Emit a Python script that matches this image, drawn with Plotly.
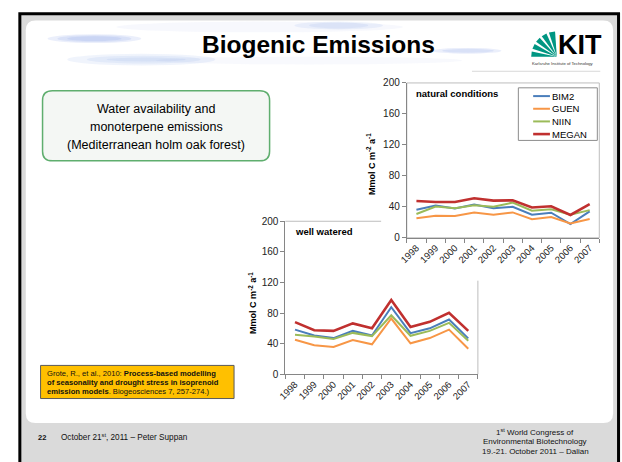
import math
import plotly.graph_objects as go

W, H = 622, 462

# ---------------- data ----------------
years = ["1998", "1999", "2000", "2001", "2002", "2003", "2004", "2005", "2006", "2007"]
series_names = ["BIM2", "GUEN", "NIIN", "MEGAN"]
series_colors = ["#4A7EBB", "#F79646", "#9BBB59", "#C0302F"]
series_widths = [2.0, 2.0, 2.0, 2.6]

natural_bim2 = [36.2, 41.7, 37.9, 43.0, 38.3, 40.0, 29.9, 32.4, 17.7, 34.1]
natural_guen = [25.3, 28.6, 28.2, 32.8, 29.9, 32.8, 24.0, 26.9, 18.5, 24.4]
natural_niin = [30.7, 40.4, 38.3, 42.1, 40.0, 45.5, 35.0, 37.0, 29.9, 35.8]
natural_megan = [47.6, 46.3, 46.3, 51.0, 48.0, 48.4, 39.2, 40.8, 29.5, 43.4]

watered_bim2 = [58.3, 50.6, 47.2, 56.6, 50.6, 87.7, 53.6, 60.0, 71.5, 46.8]
watered_guen = [45.1, 37.9, 35.7, 44.7, 39.1, 72.8, 40.4, 47.2, 58.3, 33.2]
watered_niin = [51.5, 49.4, 46.0, 54.0, 49.8, 77.0, 50.2, 56.6, 67.2, 43.8]
watered_megan = [68.1, 57.4, 56.6, 66.4, 60.0, 97.0, 61.7, 68.5, 80.4, 56.6]

y_ticks = [0, 40, 80, 120, 160, 200]

natural_series = [natural_bim2, natural_guen, natural_niin, natural_megan]
watered_series = [watered_bim2, watered_guen, watered_niin, watered_megan]

FONT = "Liberation Sans, Arial, Helvetica, sans-serif"


def X(p):
    return p / W


def Y(p):
    return 1 - p / H


fig = go.Figure()

for name, col, lw, vals in zip(series_names, series_colors, series_widths, natural_series):
    fig.add_trace(go.Scatter(x=years, y=vals, mode="lines", name=name,
                             line=dict(color=col, width=lw), xaxis="x", yaxis="y",
                             showlegend=False, hoverinfo="skip"))
for name, col, lw, vals in zip(series_names, series_colors, series_widths, watered_series):
    fig.add_trace(go.Scatter(x=years, y=vals, mode="lines", name=name,
                             line=dict(color=col, width=lw), xaxis="x2", yaxis="y2",
                             showlegend=False, hoverinfo="skip"))

AXC = "#868686"


def xax(domain, anchor):
    return dict(domain=domain, anchor=anchor, type="category", tickson="boundaries",
                ticks="outside", ticklen=4, tickcolor=AXC, tickangle=-45,
                showline=True, linecolor=AXC, linewidth=1, showgrid=False, zeroline=False,
                tickfont=dict(size=9.5, color="#222", family=FONT), range=[-0.5, 9.5],
                fixedrange=True)


def yax(domain, anchor):
    return dict(domain=domain, anchor=anchor, range=[0, 200], tickvals=y_ticks,
                ticks="outside", ticklen=4, tickcolor=AXC, showline=True, linecolor=AXC,
                linewidth=1, showgrid=False, zeroline=False,
                tickfont=dict(size=10, color="#222", family=FONT), fixedrange=True)


# chart pixel boxes
c1 = dict(x0=404, x1=599, y0=79, y1=238)
c2 = dict(x0=281, x1=476, y0=221, y1=378)

shapes = []


def rrect(x0, y0, x1, y1, r):
    pts = (f"M {X(x0 + r)} {Y(y0)} L {X(x1 - r)} {Y(y0)} Q {X(x1)} {Y(y0)} {X(x1)} {Y(y0 + r)} "
           f"L {X(x1)} {Y(y1 - r)} Q {X(x1)} {Y(y1)} {X(x1 - r)} {Y(y1)} "
           f"L {X(x0 + r)} {Y(y1)} Q {X(x0)} {Y(y1)} {X(x0)} {Y(y1 - r)} "
           f"L {X(x0)} {Y(y0 + r)} Q {X(x0)} {Y(y0)} {X(x0 + r)} {Y(y0)} Z")
    return pts


# slide frame
shapes.append(dict(type="rect", xref="paper", yref="paper", x0=X(12), x1=X(618.5), y0=Y(8), y1=Y(475),
                   line=dict(color="#000", width=3), fillcolor="#dadada", layer="below"))
shapes.append(dict(type="path", xref="paper", yref="paper", path=rrect(18, 15, 613, 428, 10),
                   line=dict(width=0), fillcolor="#ffffff", layer="below"))

# header brush strokes (soft, layered)
strokes = [(40, 29, 135, 38, 0.14), (50, 30, 125, 37, 0.14), (60, 31, 115, 36, 0.14),
           (60, 49, 210, 61, 0.10), (80, 51, 195, 59, 0.10), (100, 53, 180, 57, 0.10),
           (110, 16, 400, 27, 0.06), (290, 16, 380, 24, 0.10), (305, 17, 365, 23, 0.10),
           (430, 43, 500, 49, 0.14), (440, 44, 492, 48, 0.14), (150, 52, 460, 60, 0.05)]
for (x0, y0, x1, y1, op) in strokes:
    shapes.append(dict(type="circle", xref="paper", yref="paper", x0=X(x0), x1=X(x1), y0=Y(y0), y1=Y(y1),
                       line=dict(width=0), fillcolor="#6f8fe0", opacity=op, layer="below"))

# header separator line
shapes.append(dict(type="line", xref="paper", yref="paper", x0=X(470), x1=X(600), y0=Y(67), y1=Y(67),
                   line=dict(color="#d8d8d8", width=1), layer="below"))

# KIT fan logo
ax_, ay_ = 556, 52
R = 26
for a0, a1 in [(180, 168), (162, 150), (144, 132), (126, 114), (108, 94)]:
    p1 = (ax_ + R * math.cos(math.radians(a0)), ay_ - R * math.sin(math.radians(a0)))
    p2 = (ax_ + R * math.cos(math.radians(a1)), ay_ - R * math.sin(math.radians(a1)))
    shapes.append(dict(type="path", xref="paper", yref="paper",
                       path=f"M {X(ax_)} {Y(ay_)} L {X(p1[0])} {Y(p1[1])} L {X(p2[0])} {Y(p2[1])} Z",
                       line=dict(width=0), fillcolor="#009682", layer="below"))

# green info box
shapes.append(dict(type="path", xref="paper", yref="paper", path=rrect(35, 87, 265, 159, 10),
                   line=dict(color="#5fae6e", width=1.5), fillcolor="#f4f7f4", layer="below"))

# citation box
shapes.append(dict(type="rect", xref="paper", yref="paper", x0=X(33), x1=X(229), y0=Y(369), y1=Y(403),
                   line=dict(color="#5a5a5a", width=1), fillcolor="#FFC000", layer="below"))

# chart frames (light grey borders)
shapes.append(dict(type="rect", xref="paper", yref="paper", x0=X(c1["x0"]), x1=X(c1["x1"]),
                   y0=Y(c1["y1"]), y1=Y(c1["y0"]), line=dict(color="#bdbdbd", width=1), layer="below"))
# chart 2 frame, partially hidden behind chart 1 area
shapes.append(dict(type="line", xref="paper", yref="paper", x0=X(c2["x0"]), x1=X(378),
                   y0=Y(c2["y0"]), y1=Y(c2["y0"]), line=dict(color="#bdbdbd", width=1), layer="below"))
shapes.append(dict(type="line", xref="paper", yref="paper", x0=X(c2["x1"]), x1=X(c2["x1"]),
                   y0=Y(282), y1=Y(c2["y1"]), line=dict(color="#bdbdbd", width=1), layer="below"))

# legend box
shapes.append(dict(type="rect", xref="paper", yref="paper", x0=X(517), x1=X(597), y0=Y(84), y1=Y(138),
                   line=dict(color="#8c8c8c", width=1), fillcolor="#ffffff", layer="below"))

annotations = []


def txt(x, y, s, size, bold=False, xanchor="center", color="#000", angle=0):
    annotations.append(dict(xref="paper", yref="paper", x=X(x), y=Y(y), text=(f"<b>{s}</b>" if bold else s),
                            showarrow=False, xanchor=xanchor, yanchor="middle", textangle=angle,
                            font=dict(size=size, color=color, family=FONT)))


for i, (name, col, lw) in enumerate(zip(series_names, series_colors, series_widths)):
    yy = 92.5 + 13 * i
    shapes.append(dict(type="line", xref="paper", yref="paper", x0=X(532), x1=X(549), y0=Y(yy), y1=Y(yy),
                       line=dict(color=col, width=lw)))
    txt(549.5, yy, name, 9.5, xanchor="left")

# titles and texts
txt(315, 40, "Biogenic Emissions", 24.5, bold=True)
txt(555, 40.5, "KIT", 27, bold=True, xanchor="left")
txt(562, 59.5, "Karlsruhe Institute of Technology", 4.2, color="#333")

txt(150, 106, "Water availability and", 12.5)
txt(150, 124.5, "monoterpene emissions", 12.5)
txt(150, 143, "(Mediterranean holm oak forest)", 12.5)

txt(411, 90, "natural conditions", 9.5, bold=True, xanchor="left")
txt(289, 232, "well watered", 9.5, bold=True, xanchor="left")

ytitle = "Mmol C m<sup>-2</sup> a<sup>-1</sup>"
txt(368, 162, ytitle, 9, bold=True, angle=-90)
txt(248, 305, ytitle, 9, bold=True, angle=-90)

txt(37, 377, "Grote, R., et al., 2010: <b>Process-based modelling</b>", 7.6, xanchor="left", color="#111")
txt(37, 386.5, "<b>of seasonality and drought stress in isoprenoid</b>", 7.6, xanchor="left", color="#111")
txt(37, 396, "<b>emission models</b>. Biogeosciences 7, 257-274.)", 7.6, xanchor="left", color="#111")

txt(28, 443, "22", 7.5, bold=True, xanchor="left", color="#111")
txt(52, 443, "October 21<sup>st</sup>, 2011 – Peter Suppan", 8.2, xanchor="left", color="#111")
txt(534, 437, "1<sup>st</sup> World Congress of", 8, color="#111")
txt(534, 447.5, "Environmental Biotechnology", 8, color="#111")
txt(534, 457.5, "19.-21. October 2011 – Dalian", 8, color="#111")

fig.update_layout(
    width=W, height=H, margin=dict(l=0, r=0, t=0, b=0),
    paper_bgcolor="#ffffff", plot_bgcolor="rgba(0,0,0,0)",
    font=dict(family=FONT),
    showlegend=False,
    xaxis=xax([X(c1["x0"]), X(c1["x1"])], "y"),
    yaxis=yax([Y(c1["y1"]), Y(c1["y0"])], "x"),
    xaxis2=xax([X(c2["x0"]), X(c2["x1"])], "y2"),
    yaxis2=yax([Y(c2["y1"]), Y(c2["y0"])], "x2"),
    shapes=shapes, annotations=annotations,
)

fig.write_html("out.html", config={"displayModeBar": False},
               post_script="document.body.style.margin='0';document.body.style.overflow='hidden';")
